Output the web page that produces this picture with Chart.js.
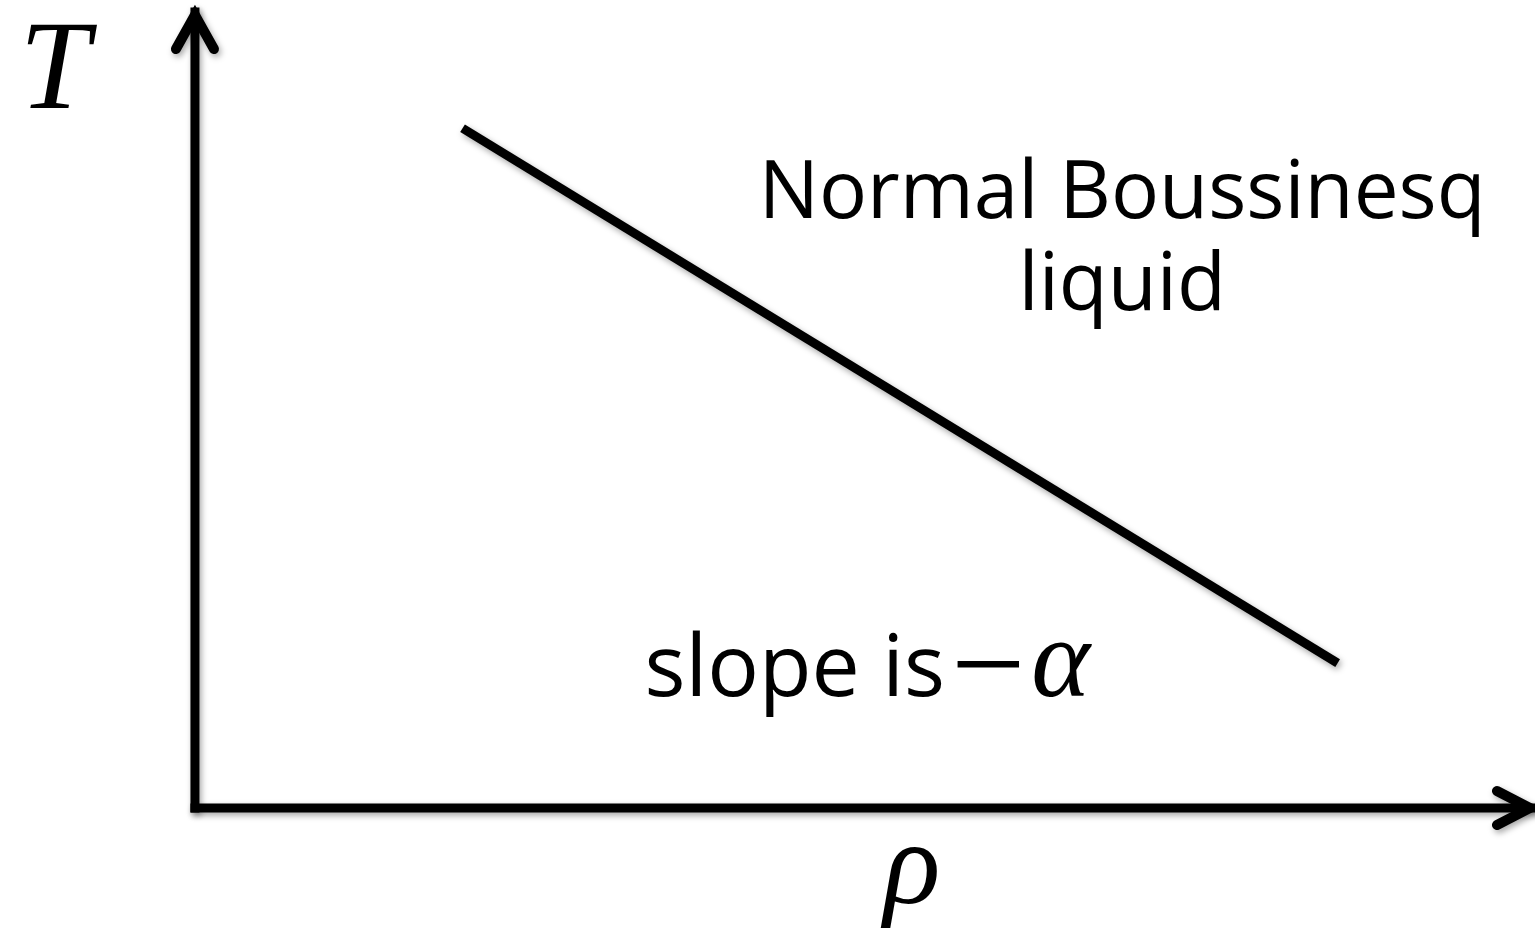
<!DOCTYPE html>
<html>
<head>
<meta charset="utf-8">
<script src="https://cdn.jsdelivr.net/npm/chart.js@4.4.0/dist/chart.umd.min.js"></script>
<style>
    html, body { margin: 0; padding: 0; background: #ffffff; }
    #wrap { width: 1535px; height: 931px; position: relative; }
</style>
</head>
<body>
<div id="wrap"><canvas id="myChart"></canvas></div>
<script>
// the two ends of the T(rho) line, in plot units (axes run 0..10)
var rhoValues = [2.0, 8.54];
var tempValues = [8.54, 1.82];

// axis extents, arrow tips sit at the max
var rhoAxis = [0, 10];
var tempAxis = [0, 10];

var lineColor = '#000000';

function toPoints(xs, ys) {
    var pts = [];
    for (var i = 0; i < xs.length; i++) pts.push({ x: xs[i], y: ys[i] });
    return pts;
}

// draws arrowheads and the text labels, positioned with the chart scales
var sketchPlugin = {
    id: 'sketch',
    beforeDatasetsDraw: function(chart) {
        var ctx = chart.ctx;
        ctx.save();
        ctx.shadowColor = 'rgba(0, 0, 0, 0.35)';
        ctx.shadowBlur = 6;
        ctx.shadowOffsetX = 2;
        ctx.shadowOffsetY = 3;
    },
    afterDatasetsDraw: function(chart) {
        var ctx = chart.ctx;
        var xs = chart.scales.x;
        var ys = chart.scales.y;

        // arrow heads (still with the shadow on)
        ctx.strokeStyle = lineColor;
        ctx.lineWidth = 10;
        ctx.lineCap = 'round';
        ctx.lineJoin = 'miter';

        var tx = xs.getPixelForValue(0);
        var ty = ys.getPixelForValue(tempAxis[1]);
        ctx.beginPath();
        ctx.moveTo(tx - 19, ty + 37);
        ctx.lineTo(tx, ty + 3);
        ctx.lineTo(tx + 19, ty + 37);
        ctx.stroke();

        var rx = xs.getPixelForValue(rhoAxis[1]);
        var ry = ys.getPixelForValue(0);
        ctx.beginPath();
        ctx.moveTo(rx - 36, ry - 17);
        ctx.lineTo(rx - 3, ry);
        ctx.lineTo(rx - 36, ry + 17);
        ctx.stroke();
        ctx.restore();

        ctx.save();
        ctx.fillStyle = '#000000';
        ctx.textBaseline = 'alphabetic';

        // axis symbols
        ctx.textAlign = 'center';
        ctx.font = 'italic 126px "Liberation Serif"';
        ctx.fillText('T', xs.getPixelForValue(-1.05), ys.getPixelForValue(8.79));
        ctx.font = 'italic 118px "Liberation Serif"';
        ctx.fillText('\u03C1', xs.getPixelForValue(5.36), ys.getPixelForValue(-1.19));

        // region label
        ctx.font = '80px "Open Sans"';
        ctx.fillText('Normal Boussinesq', xs.getPixelForValue(6.93), ys.getPixelForValue(7.41));
        ctx.fillText('liquid', xs.getPixelForValue(6.93), ys.getPixelForValue(6.26));

        // slope note
        ctx.textAlign = 'left';
        ctx.font = '86px "Open Sans"';
        var sx = xs.getPixelForValue(3.36);
        var sy = ys.getPixelForValue(1.41);
        ctx.fillText('slope is', sx, sy);
        sx += ctx.measureText('slope is').width + 6;
        ctx.font = '132px "Liberation Serif"';
        ctx.fillText('\u2212', sx, sy + 12);
        sx += ctx.measureText('\u2212').width + 6;
        ctx.font = 'italic 112px "Liberation Serif"';
        ctx.fillText('\u03B1', sx, sy);
        ctx.restore();
    }
};

document.addEventListener('DOMContentLoaded', function() {
    var canvas = document.getElementById('myChart');
    new Chart(canvas, {
        type: 'scatter',
        data: {
            datasets: [
                {
                    label: 'rho axis',
                    data: toPoints(rhoAxis, [0, 0]),
                    showLine: true,
                    borderColor: lineColor,
                    borderWidth: 9,
                    borderCapStyle: 'square',
                    pointRadius: 0,
                    clip: false
                },
                {
                    label: 'T axis',
                    data: toPoints([0, 0], tempAxis),
                    showLine: true,
                    borderColor: lineColor,
                    borderWidth: 9,
                    borderCapStyle: 'square',
                    pointRadius: 0,
                    clip: false
                },
                {
                    label: 'T(rho)',
                    data: toPoints(rhoValues, tempValues),
                    showLine: true,
                    borderColor: lineColor,
                    borderWidth: 9,
                    borderCapStyle: 'butt',
                    pointRadius: 0,
                    clip: false
                }
            ]
        },
        options: {
            responsive: true,
            maintainAspectRatio: false,
            animation: false,
            layout: { padding: 0, autoPadding: false },
            plugins: {
                legend: { display: false },
                tooltip: { enabled: false }
            },
            scales: {
                x: { type: 'linear', min: -1.457, max: 10.015, display: false },
                y: { type: 'linear', min: -1.545, max: 10.151, display: false }
            }
        },
        plugins: [sketchPlugin]
    });
});
</script>
</body>
</html>
